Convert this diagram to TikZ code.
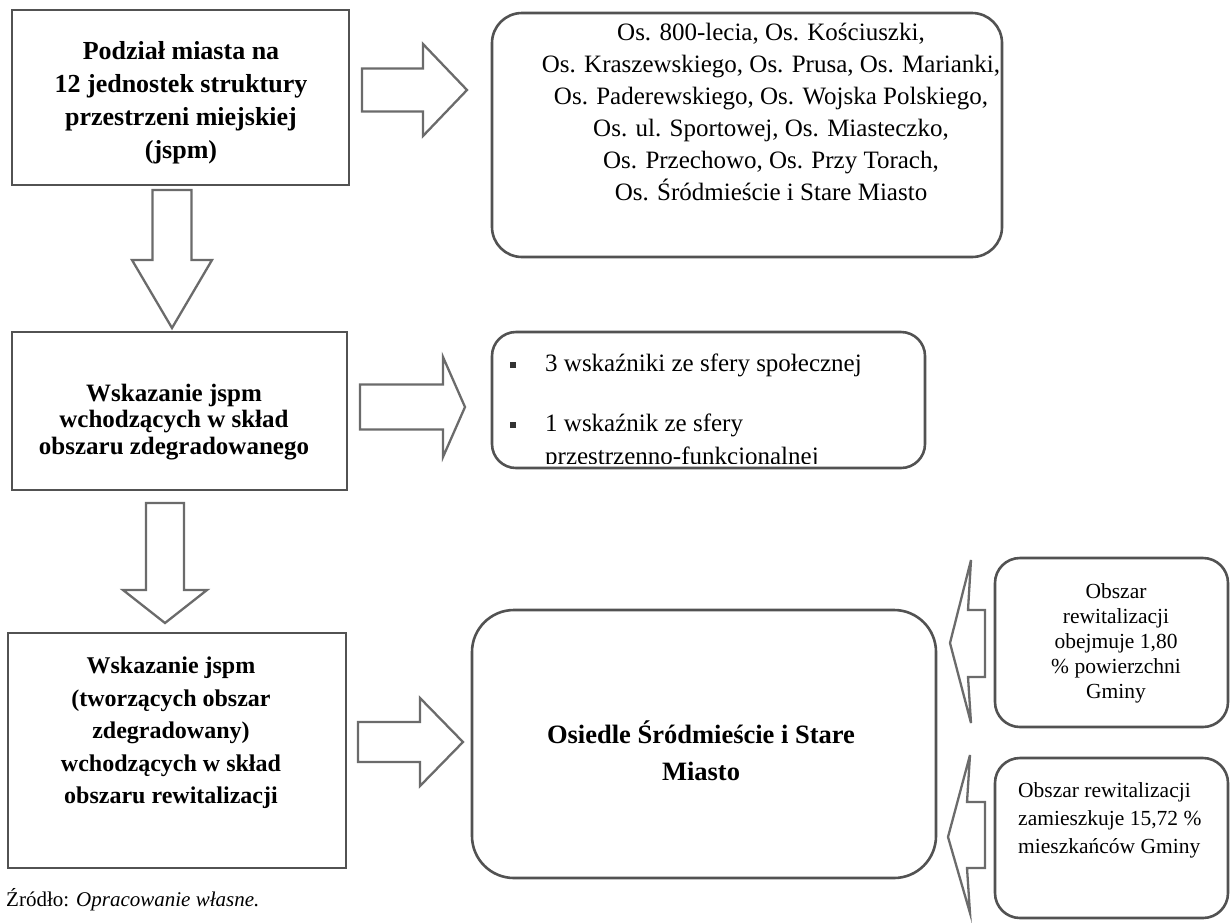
\documentclass[tikz,border=0pt]{standalone}
\usepackage{fontspec}
\setmainfont{Liberation Serif}
\usetikzlibrary{calc}
\tikzset{
  frame/.style={draw=black!68, line width=2.6pt},
  sqbox/.style={frame, rectangle, inner sep=0pt},
  rbox/.style={frame, rectangle, rounded corners=#1, inner sep=0pt},
  barrow/.style={draw=black!58, line width=2.3pt, fill=white, line join=miter},
  txt/.style={inner sep=0pt, align=center},
  bul/.style={fill=black!80, minimum size=6.5pt, inner sep=0pt, rectangle},
}
\newcommand\blockright[6]{% x0, xhead, xtip, cy, shaft half, head half
  \draw[barrow] (#1,#4-#5) -- (#2,#4-#5) -- (#2,#4-#6) -- (#3,#4) -- (#2,#4+#6) -- (#2,#4+#5) -- (#1,#4+#5) -- cycle;}
\newcommand\blockdown[6]{% y0, yhead, ytip, cx, shaft half, head half
  \draw[barrow] (#4-#5,#1) -- (#4-#5,#2) -- (#4-#6,#2) -- (#4,#3) -- (#4+#6,#2) -- (#4+#5,#2) -- (#4+#5,#1) -- cycle;}
\begin{document}
\begin{tikzpicture}[x=1pt,y=-1pt]
\useasboundingbox (0,0) rectangle (1231,922);

% left column boxes
\node[sqbox, minimum width=337pt, minimum height=175pt] (b1) at (180.5,97.5) {};
\node[txt, font=\fontsize{26}{33}\selectfont\bfseries] (t1) at (181,103)
  {Podział miasta na\\12 jednostek struktury\\przestrzeni miejskiej\\(jspm)};

\node[sqbox, minimum width=335pt, minimum height=158pt] (b3) at (179.5,411) {};
\node[txt, font=\fontsize{25}{26.5}\selectfont\bfseries] (t3) at (174,422)
  {Wskazanie jspm\\wchodzących w skład\\obszaru zdegradowanego};

\node[sqbox, minimum width=338pt, minimum height=235pt] (b5) at (177,750.5) {};
\node[txt, font=\fontsize{24}{32.5}\selectfont\bfseries] (t5) at (171,733)
  {Wskazanie jspm\\(tworzących obszar\\zdegradowany)\\wchodzących w skład\\obszaru rewitalizacji};

% right column boxes
\node[rbox=30pt, minimum width=510pt, minimum height=244pt] (b2) at (747,135) {};
\node[txt, font=\fontsize{25}{32}\selectfont] (t2) at (771,112)
  {Os. 800-lecia, Os. Kościuszki,\\Os. Kraszewskiego, Os. Prusa, Os. Marianki,\\Os. Paderewskiego, Os. Wojska Polskiego,\\Os. ul. Sportowej, Os. Miasteczko,\\Os. Przechowo, Os. Przy Torach,\\Os. Śródmieście i Stare Miasto};

\begin{scope}
  \clip (492,332) rectangle (925,463.5);
  \node[bul] (u1) at (513,365) {};
  \node[bul] (u2) at (513,425) {};
  \node[inner sep=0pt, anchor=base west, font=\fontsize{25}{30}\selectfont] (t4a) at (545,371) {3 wskaźniki ze sfery społecznej};
  \node[inner sep=0pt, anchor=base west, font=\fontsize{25}{30}\selectfont] (t4b) at (545,431) {1 wskaźnik ze sfery};
  \node[inner sep=0pt, anchor=base west, font=\fontsize{25}{30}\selectfont] (t4c) at (545,464) {przestrzenno-funkcjonalnej};
\end{scope}
\node[rbox=24pt, minimum width=433pt, minimum height=136pt] (b4) at (708.5,400) {};

\node[rbox=42pt, minimum width=464pt, minimum height=268pt] (b6) at (704,744) {};
\node[txt, font=\fontsize{26.5}{37}\selectfont\bfseries] (t6) at (701,751)
  {Osiedle Śródmieście i Stare\\Miasto};

\node[rbox=25pt, minimum width=233pt, minimum height=169pt] (b7) at (1111.5,642.5) {};
\node[txt, font=\fontsize{21.5}{25}\selectfont] (t7) at (1116,643)
  {Obszar\\rewitalizacji\\obejmuje 1,80\\\% powierzchni\\Gminy};

\node[rbox=25pt, minimum width=233pt, minimum height=160pt] (b8) at (1111.5,838) {};
\node[inner sep=0pt, align=left, anchor=west, font=\fontsize{21.5}{28}\selectfont] (t8) at (1018,820)
  {Obszar rewitalizacji\\zamieszkuje 15,72 \%\\mieszkańców Gminy};

% block arrows
\blockright{362}{423}{467}{90}{21.5}{46}
\blockright{360}{443}{465}{407}{22.5}{50}
\blockright{358}{420}{463}{742}{20}{44}
\blockdown{190}{260}{328}{172}{19.5}{40}
\blockdown{503}{590}{623}{165}{19}{42}

\draw[barrow] (985,610) -- (968,610) -- (971,560) -- (950,643) -- (971,723) -- (968,677) -- (985,677) -- cycle;
\draw[barrow] (985,802) -- (967,802) -- (970,755) -- (948,837) -- (970,913) -- (967,868) -- (985,868) -- cycle;

% caption
\node[inner sep=0pt, anchor=west, font=\fontsize{21}{25}\selectfont] (cap) at (6,900)
  {Źródło: \textit{Opracowanie własne.}};
\end{tikzpicture}
\end{document}
